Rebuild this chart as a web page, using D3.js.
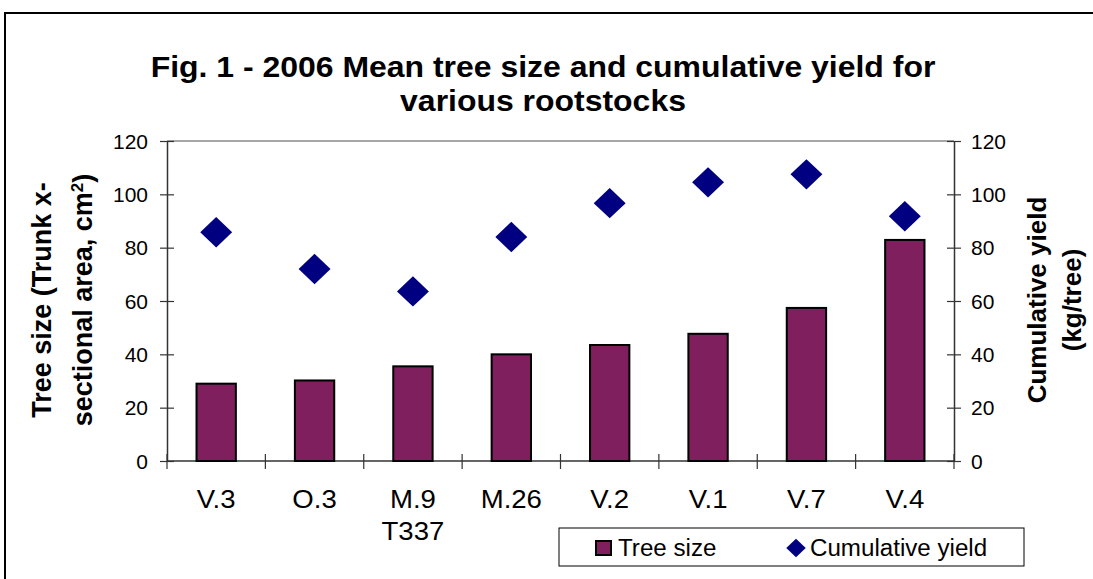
<!DOCTYPE html>
<html>
<head>
<meta charset="utf-8">
<script src="https://cdn.jsdelivr.net/npm/d3@7"></script>
<style>
  body { margin: 0; background: #fff; }
  text { font-family: Arial, "Liberation Sans", sans-serif; fill: #000; }
</style>
</head>
<body>
<div id="chart-area"></div>
<script>
// data
var categories = ["V.3", "O.3", "M.9\nT337", "M.26", "V.2", "V.1", "V.7", "V.4"];
var treeSize = [29, 30.2, 35.5, 40, 43.5, 47.7, 57.4, 82.9];
var cumYield = [85.8, 72, 63.6, 84, 96.7, 104.5, 107.5, 91.8];
var yTicks = [0, 20, 40, 60, 80, 100, 120];
var titleLines = ["Fig. 1 - 2006 Mean tree size and cumulative yield for", "various rootstocks"];
var seriesNames = ["Tree size", "Cumulative yield"];

var W = 1093, H = 579;
var plot = { left: 167, right: 954, top: 141, bottom: 461 };
var sx = 1.06;   // the original picture is a bit wide for its text
var barColor = "#7f1f5e", dotColor = "#000080";

var svg = d3.select("#chart-area")
    .append("svg")
        .attr("width", W)
        .attr("height", H);

// outer frame of the chart object
svg.append("path")
    .attr("d", "M5," + H + "V13H" + W)
    .attr("fill", "none")
    .attr("stroke", "#000")
    .attr("stroke-width", 2);

function place(x, y, s) {
    return "translate(" + x + "," + y + ") scale(" + (s || sx) + ",1)";
}

// Title
svg.selectAll("text.title")
    .data(titleLines)
    .enter().append("text")
        .attr("class", "title")
        .attr("text-anchor", "middle")
        .attr("font-size", "30px")
        .attr("font-weight", "bold")
        .attr("transform", function(d, i){ return place(543, 77 + i * 34, 1.065); })
        .text(function(d){ return d; });

var x = d3.scaleBand()
    .domain(categories)
    .range([plot.left, plot.right])
    .paddingInner(0.6)
    .paddingOuter(0.3);

var y = d3.scaleLinear()
    .domain([0, 120])
    .range([plot.bottom, plot.top]);

// plot area top border
svg.append("line")
    .attr("x1", plot.left).attr("x2", plot.right)
    .attr("y1", plot.top).attr("y2", plot.top)
    .attr("stroke", "#888").attr("stroke-width", 1.5);

// Left axis
var yAxisL = svg.append("g")
    .attr("transform", "translate(" + plot.left + ",0)")
    .call(d3.axisLeft(y).tickValues(yTicks).tickSizeOuter(0));
// Right axis
var yAxisR = svg.append("g")
    .attr("transform", "translate(" + plot.right + ",0)")
    .call(d3.axisRight(y).tickValues(yTicks).tickSizeOuter(0));

[yAxisL, yAxisR].forEach(function(ax, k){
    ax.select(".domain").attr("stroke", "#333").attr("stroke-width", 1.5);
    ax.selectAll(".tick line")
        .attr("x1", -7).attr("x2", 7)
        .attr("stroke", "#333").attr("stroke-width", 1.2);
    ax.selectAll(".tick text")
        .attr("x", null).attr("dy", null)
        .attr("font-size", "20px")
        .attr("font-family", null)
        .attr("text-anchor", k === 0 ? "end" : "start")
        .attr("transform", place(k === 0 ? -19 : 17, 7, 1.05));
});

// X axis line and boundary ticks
svg.append("line")
    .attr("x1", plot.left).attr("x2", plot.right)
    .attr("y1", plot.bottom).attr("y2", plot.bottom)
    .attr("stroke", "#333").attr("stroke-width", 1.5);

var bounds = categories.map(function(c){ return x(c) + x.bandwidth() / 2 - x.step() / 2; });
bounds.push(plot.right);
svg.selectAll("line.xtick")
    .data(bounds)
    .enter().append("line")
        .attr("class", "xtick")
        .attr("x1", function(d){ return d; }).attr("x2", function(d){ return d; })
        .attr("y1", plot.bottom - 7).attr("y2", plot.bottom + 8)
        .attr("stroke", "#333").attr("stroke-width", 1.2);

// Category labels
var catLabels = svg.selectAll("g.cat")
    .data(categories)
    .enter().append("g")
        .attr("class", "cat");
catLabels.each(function(c){
    var lines = c.split("\n");
    d3.select(this).selectAll("text")
        .data(lines)
        .enter().append("text")
            .attr("text-anchor", "middle")
            .attr("font-size", "26px")
            .attr("transform", function(d, i){
                return place(x(c) + x.bandwidth() / 2, 508 + i * 32);
            })
            .text(function(d){ return d; });
});

// Bars
svg.selectAll("rect.bar")
    .data(treeSize)
    .enter().append("rect")
        .attr("class", "bar")
        .attr("x", function(d, i){ return x(categories[i]); })
        .attr("y", function(d){ return y(d); })
        .attr("width", x.bandwidth())
        .attr("height", function(d){ return plot.bottom - y(d); })
        .attr("fill", barColor)
        .attr("stroke", "#000")
        .attr("stroke-width", 2);

// Diamonds
var diamond = d3.symbol().type(d3.symbolSquare).size(462);
svg.selectAll("path.dot")
    .data(cumYield)
    .enter().append("path")
        .attr("class", "dot")
        .attr("d", diamond)
        .attr("transform", function(d, i){
            return "translate(" + (x(categories[i]) + x.bandwidth() / 2) + "," + y(d) + ") scale(1.05,1) rotate(45)";
        })
        .attr("fill", dotColor);

// Left axis title
var leftTitle = svg.append("text")
    .attr("font-size", "27px")
    .attr("font-weight", "bold")
    .attr("text-anchor", "middle");
leftTitle.append("tspan")
    .attr("x", 0).attr("y", 0)
    .text("Tree size (Trunk x-");
var l2 = leftTitle.append("tspan")
    .attr("x", 0).attr("y", 41)
    .text("sectional area,  cm");
l2.append("tspan")
    .attr("font-size", "17px")
    .attr("baseline-shift", "super")
    .text("2");
l2.append("tspan").text(")");
leftTitle.attr("transform", "translate(51,300) rotate(-90)");

// Right axis title
var rightTitle = svg.append("text")
    .attr("font-size", "26px")
    .attr("font-weight", "bold")
    .attr("text-anchor", "middle")
    .attr("transform", "translate(1046,300) rotate(-90)");
rightTitle.append("tspan").attr("x", 0).attr("y", 0).text("Cumulative yield");
rightTitle.append("tspan").attr("x", 0).attr("y", 35).text("(kg/tree)");

// Legend
var legend = svg.append("g");
legend.append("rect")
    .attr("x", 559).attr("y", 528)
    .attr("width", 465).attr("height", 38)
    .attr("fill", "#fff")
    .attr("stroke", "#000")
    .attr("stroke-width", 1);
legend.append("rect")
    .attr("x", 596).attr("y", 541)
    .attr("width", 15).attr("height", 14)
    .attr("fill", barColor)
    .attr("stroke", "#000")
    .attr("stroke-width", 2);
legend.append("text")
    .attr("font-size", "23px")
    .attr("transform", place(618, 556, 1.05))
    .text(seriesNames[0]);
legend.append("path")
    .attr("d", d3.symbol().type(d3.symbolSquare).size(172))
    .attr("transform", "translate(796,548) scale(1.05,1) rotate(45)")
    .attr("fill", dotColor);
legend.append("text")
    .attr("font-size", "23px")
    .attr("transform", place(810, 556, 1.05))
    .text(seriesNames[1]);
</script>
</body>
</html>
